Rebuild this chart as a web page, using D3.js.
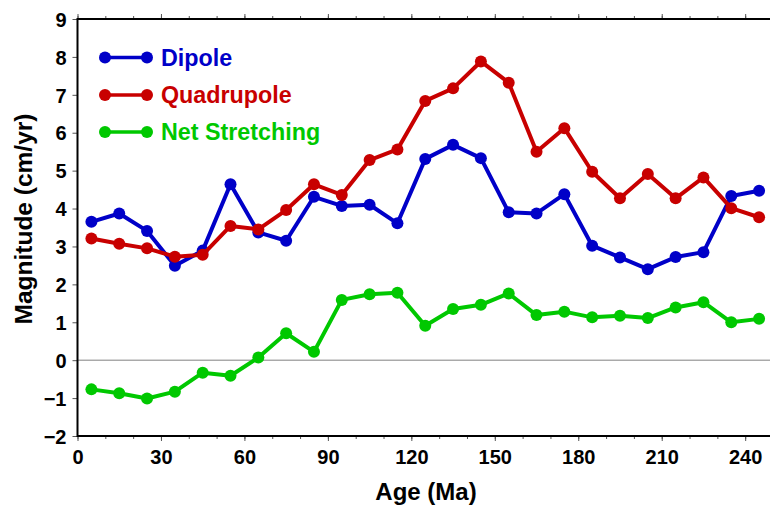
<!DOCTYPE html>
<html><head><meta charset="utf-8">
<script src="https://cdn.jsdelivr.net/npm/d3@7"></script>
<style>
html,body{margin:0;padding:0;background:#fff;overflow:hidden;}
text{font-family:"Liberation Sans",Arial,Helvetica,sans-serif;font-weight:bold;}
</style></head>
<body>
<svg id="chart" width="770" height="506"></svg>
<script>
const ages = [5,15,25,35,45,55,65,75,85,95,105,115,125,135,145,155,165,175,185,195,205,215,225,235,245];
const dipole = [3.65,3.87,3.41,2.49,2.89,4.64,3.37,3.15,4.31,4.07,4.10,3.61,5.31,5.68,5.33,3.90,3.87,4.38,3.02,2.71,2.40,2.72,2.85,4.33,4.47];
const quadrupole = [3.21,3.07,2.95,2.73,2.78,3.54,3.45,3.96,4.64,4.36,5.28,5.56,6.84,7.17,7.88,7.32,5.50,6.12,4.97,4.27,4.91,4.27,4.82,4.01,3.77];
const netStretching = [-0.77,-0.87,-1.01,-0.83,-0.33,-0.41,0.07,0.71,0.22,1.59,1.74,1.78,0.91,1.35,1.46,1.76,1.19,1.28,1.13,1.17,1.11,1.39,1.53,1.00,1.09];
const seriesNames = ["Dipole","Quadrupole","Net Stretching"];
const seriesColors = ["#0000c8","#c80000","#00c800"];
const xTicks = [0,30,60,90,120,150,180,210,240];
const xMinorTicks = d3.range(0,251,10);
const yTicks = [-2,-1,0,1,2,3,4,5,6,7,8,9];
const xLabel = "Age (Ma)";
const yLabel = "Magnitude (cm/yr)";

const svg = d3.select("#chart");
const L = 77.5, T = 19, B = 436, R = 773;
const x = d3.scaleLinear().domain([0,250]).range([L,R]);
const y = d3.scaleLinear().domain([-2,9]).range([B,T]);

// zero line
svg.append("line").attr("x1",L).attr("x2",R).attr("y1",y(0)).attr("y2",y(0))
  .attr("stroke","#808080").attr("stroke-width",1);

// axes
function styleAxis(g){
  g.select(".domain").remove();
  g.selectAll(".tick line").attr("stroke","#555").attr("stroke-width",1);
  g.selectAll(".tick text").attr("fill","#000").style("font-size","20px");
}
const gxMinorB = svg.append("g").attr("transform",`translate(0,${B})`)
  .call(d3.axisBottom(x).tickValues(xMinorTicks).tickSize(3).tickFormat(""));
styleAxis(gxMinorB);
const gxMinorT = svg.append("g").attr("transform",`translate(0,${T})`)
  .call(d3.axisTop(x).tickValues(xMinorTicks).tickSize(3).tickFormat(""));
styleAxis(gxMinorT);
const gx = svg.append("g").attr("transform",`translate(0,${B})`)
  .call(d3.axisBottom(x).tickValues(xTicks).tickSize(5).tickPadding(9).tickFormat(d3.format("d")));
styleAxis(gx);
const gxT = svg.append("g").attr("transform",`translate(0,${T})`)
  .call(d3.axisTop(x).tickValues(xTicks).tickSize(5).tickFormat(""));
styleAxis(gxT);
const gy = svg.append("g").attr("transform",`translate(${L},0)`)
  .call(d3.axisLeft(y).tickValues(yTicks).tickSize(5).tickPadding(6).tickFormat(d => d < 0 ? "\u2212" + Math.abs(d) : d));
styleAxis(gy);
gy.selectAll(".tick text").attr("dy","0.36em");

// frame
svg.append("path").attr("d",`M${R},${T}H${L}V${B}H${R}`).attr("fill","none")
  .attr("stroke","#000").attr("stroke-width",2);

// series
const allSeries = [dipole, quadrupole, netStretching];
const line = d3.line().x((d,i)=>x(ages[i])).y(d=>y(d));
allSeries.forEach((vals,k)=>{
  const g = svg.append("g");
  g.append("path").datum(vals).attr("d",line).attr("fill","none")
    .attr("stroke",seriesColors[k]).attr("stroke-width",4).attr("stroke-linejoin","round");
  g.selectAll("circle").data(vals).enter().append("circle")
    .attr("cx",(d,i)=>x(ages[i])).attr("cy",d=>y(d)).attr("r",6).attr("fill",seriesColors[k]);
});

// legend
const legRows = [57.5, 95, 132];
seriesNames.forEach((name,k)=>{
  const g = svg.append("g");
  const yy = legRows[k];
  g.append("line").attr("x1",105).attr("x2",147).attr("y1",yy).attr("y2",yy)
    .attr("stroke",seriesColors[k]).attr("stroke-width",3.5);
  g.append("circle").attr("cx",105).attr("cy",yy).attr("r",6).attr("fill",seriesColors[k]);
  g.append("circle").attr("cx",147).attr("cy",yy).attr("r",6).attr("fill",seriesColors[k]);
  g.append("text").attr("x",161).attr("y",yy+8).attr("fill",seriesColors[k])
    .style("font-size","23.3px").text(name);
});

// axis titles
svg.append("text").attr("x",426).attr("y",500).attr("text-anchor","middle")
  .style("font-size","24px").attr("fill","#000").text(xLabel);
svg.append("text").attr("transform","translate(32,219) rotate(-90)").attr("text-anchor","middle")
  .style("font-size","24.5px").attr("fill","#000").text(yLabel);
</script>
</body></html>
